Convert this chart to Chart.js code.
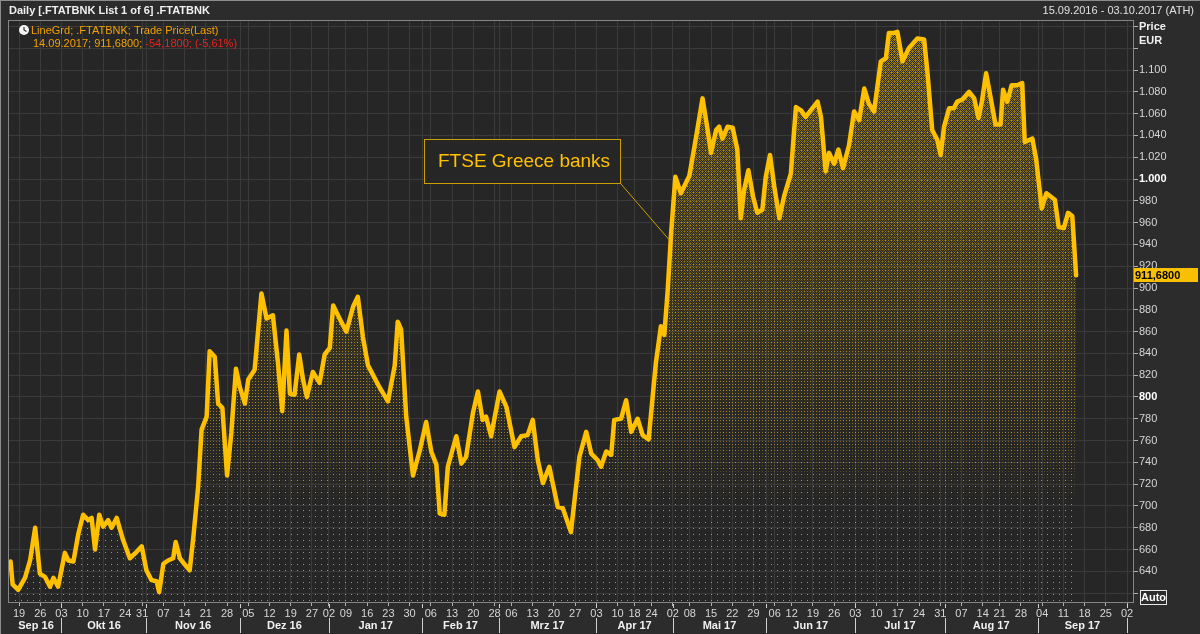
<!DOCTYPE html>
<html>
<head>
<meta charset="utf-8">
<script src="https://cdn.jsdelivr.net/npm/chart.js@4.4.1/dist/chart.umd.min.js"></script>
<style>
  html, body { margin: 0; padding: 0; background: #2c2c2c; }
  #wrap { width: 1200px; height: 634px; }
</style>
</head>
<body>
<div id="wrap"><canvas id="chart" width="1200" height="634"></canvas></div>
<script>
// FTSE Greece banks (.FTATBNK), daily close, x = trading day since 15.09.2016

const tradingDay = [
  0, 0.5, 1.8, 3.4, 4.6, 5.8, 6.9, 8.1, 9.3, 10.1, 11.2, 12.8, 13.6, 14.8, 16.0, 17.1, 18.3, 19.1, 19.9, 20.9,
  21.8, 23.0, 23.8, 25.0, 26.5, 28.1, 29.7, 30.9, 32.0, 33.2, 34.4, 35.0, 36.0, 37.1, 38.3, 38.9, 39.9, 41.1, 42.2, 43.0,
  44.2, 45.0, 46.2, 46.9, 48.1, 48.9, 49.9, 51.0, 52.0, 53.1, 54.0, 55.2, 56.0, 57.5, 59.1, 60.3, 61.8, 63.0, 64.0, 65.0,
  65.8, 66.9, 68.0, 68.9, 69.8, 71.2, 72.8, 74.0, 75.2, 76.0, 77.5, 79.1, 80.7, 81.8, 83.0, 84.2, 86.9, 88.9, 90.5, 91.2,
  92.0, 93.2, 94.8, 96.4, 97.9, 99.1, 100.3, 101.1, 102.2, 103.0, 105.0, 106.2, 107.3, 108.9, 110.1, 111.2, 112.0, 113.2, 115.2, 116.8,
  118.7, 120.3, 121.8, 123.0, 124.2, 125.4, 126.9, 128.9, 130.1, 132.0, 134.0, 135.6, 136.8, 138.3, 139.1, 140.3, 141.5, 142.2, 143.8, 145.0,
  146.2, 147.7, 148.9, 150.3, 152.0, 153.2, 154.0, 154.8, 155.6, 156.6, 157.9, 159.9, 161.5, 163.0, 164.2, 165.0, 166.2, 166.9, 167.7, 168.9,
  170.1, 171.2, 172.0, 172.8, 173.8, 174.9, 175.9, 177.1, 177.9, 178.9, 179.9, 181.1, 182.2, 183.8, 185.0, 186.2, 187.3, 188.9, 190.1, 190.9,
  192.0, 192.8, 194.0, 195.0, 196.1, 197.5, 198.7, 199.9, 201.1, 202.2, 203.4, 205.0, 206.2, 206.9, 208.1, 208.9, 210.1, 211.6, 213.6, 215.2,
  216.0, 217.1, 218.3, 219.1, 219.9, 221.1, 222.2, 223.0, 224.2, 225.8, 227.0, 228.0, 228.8, 229.8, 230.9, 232.0, 233.2, 233.8, 234.8, 235.8,
  237.1, 238.3, 238.9, 240.7, 241.6, 242.9, 244.0, 246.0, 246.9, 248.1, 249.1, 250.1, 251.0
];

const price = [
  649, 628, 623, 634, 650, 680, 638, 635, 626, 634, 626, 657, 650, 649, 675, 692, 687, 689, 660, 692,
  681, 687, 680, 689, 669, 652, 658, 663, 641, 632, 631, 621, 647, 650, 652, 667, 652, 646, 641, 669,
  718, 770, 782, 842, 837, 794, 790, 728, 767, 826, 809, 794, 816, 825, 895, 872, 875, 831, 787, 861,
  803, 802, 839, 816, 800, 823, 813, 839, 845, 884, 872, 860, 883, 892, 855, 829, 809, 796, 829, 869,
  862, 782, 728, 751, 777, 750, 738, 693, 692, 736, 764, 739, 745, 785, 805, 779, 782, 764, 805, 791,
  754, 764, 765, 779, 742, 721, 736, 699, 698, 676, 745, 768, 748, 742, 736, 750, 747, 779, 780, 797,
  768, 780, 765, 761, 831, 865, 857, 898, 950, 1002, 987, 1003, 1039, 1074, 1045, 1024, 1045, 1048, 1037, 1048,
  1047, 1027, 964, 990, 1008, 984, 969, 972, 1002, 1022, 993, 964, 984, 1005, 1066, 1063, 1057, 1065, 1071, 1057,
  1007, 1024, 1014, 1027, 1010, 1031, 1062, 1054, 1083, 1069, 1062, 1108, 1111, 1134, 1134, 1135, 1108, 1120, 1129, 1128,
  1097, 1045, 1036, 1022, 1048, 1065, 1065, 1071, 1073, 1080, 1074, 1056, 1071, 1097, 1074, 1050, 1050, 1082, 1071, 1086,
  1086, 1088, 1034, 1037, 1018, 973, 987, 981, 956, 955, 969, 966, 911.68
];

const weekTickDays = [
  2, 7, 12, 17, 22, 27, 31, 36, 41, 46, 51, 56, 61, 66, 71, 75, 79, 84, 89, 94,
  99, 104, 109, 114, 118, 123, 128, 133, 138, 143, 147, 151, 156, 160, 165, 170, 175, 180, 184, 189,
  194, 199, 204, 209, 214, 219, 224, 229, 233, 238, 243, 248, 253, 258, 263
];
const weekTickLabels = [
  '19', '26', '03', '10', '17', '24', '31', '07', '14', '21', '28', '05', '12', '19', '27', '02', '09', '16', '23', '30',
  '06', '13', '20', '28', '06', '13', '20', '27', '03', '10', '18', '24', '02', '08', '15', '22', '29', '06', '12', '19',
  '26', '03', '10', '17', '24', '31', '07', '14', '21', '28', '04', '11', '18', '25', '02'
];

const monthStartDays = [0, 12, 32, 54, 75, 97, 115, 138, 156, 178, 199, 220, 242, 263];
const monthLabels = ['Sep 16', 'Okt 16', 'Nov 16', 'Dez 16', 'Jan 17', 'Feb 17', 'Mrz 17',
                     'Apr 17', 'Mai 17', 'Jun 17', 'Jul 17', 'Aug 17', 'Sep 17'];

const priceTicks = [620, 640, 660, 680, 700, 720, 740, 760, 780, 800, 820, 840, 860, 880, 900,
                    920, 940, 960, 980, 1000, 1020, 1040, 1060, 1080, 1100, 1120, 1140];

const FONT = "'Liberation Sans', Arial, sans-serif";
const LINE = '#ffc000';
const GRID = '#3a3a3a';

function fmtPrice(v) {
  if (v >= 1000) return Math.floor(v / 1000) + '.' + String(v % 1000).padStart(3, '0');
  return String(v);
}

// dithered area fill: dense yellow dots at the top fading to a sparse dot grid at the bottom
let fillPattern = null;
function getFillPattern(chartCtx, area) {
  if (fillPattern) return fillPattern;
  const c = document.createElement('canvas');
  c.width = 6;
  c.height = 634;
  const g = c.getContext('2d');
  for (let y = 0; y < c.height; y++) {
    const t = Math.min(1, Math.max(0, (y - area.top) / (area.bottom - area.top)));
    for (let x = 0; x < 6; x++) {
      let alpha = 0;
      if ((x + y) % 2 === 0) alpha = Math.max(0, 0.58 - 0.8 * t);
      if (x % 3 === 0 && y % 3 === 0) {
        const mid = t < 0.68 ? 0.55 : Math.max(0, 0.55 - (t - 0.68) * 3.5);
        alpha = Math.max(alpha, mid);
      }
      if (x === 3 && y % 6 === 0) alpha = Math.max(alpha, 0.7);
      if (alpha > 0) {
        g.fillStyle = 'rgba(255,200,0,' + alpha.toFixed(3) + ')';
        g.fillRect(x, y, 1, 1);
      }
    }
  }
  fillPattern = chartCtx.createPattern(c, 'repeat');
  return fillPattern;
}

// --- background, header, legend, annotation, boxes ---
const decor = {
  id: 'decor',
  beforeDraw(chart) {
    const { ctx, chartArea: a } = chart;
    ctx.save();
    ctx.fillStyle = '#2c2c2c';
    ctx.fillRect(0, 0, chart.width, chart.height);
    ctx.fillStyle = '#262626';
    ctx.fillRect(a.left, a.top, a.right - a.left, a.bottom - a.top);
    ctx.fillStyle = '#8c8c8c';
    ctx.fillRect(0, 0, chart.width, 1);
    ctx.fillRect(0, 0, 1, chart.height);
    ctx.restore();
  },
  beforeDatasetsDraw(chart) {
    // month-boundary grid lines
    const { ctx, chartArea: a, scales: { x } } = chart;
    ctx.save();
    ctx.strokeStyle = GRID;
    ctx.lineWidth = 1;
    monthStartDays.slice(1, -1).forEach(d => {
      const px = Math.round(x.getPixelForValue(d)) + 0.5;
      if (weekTickDays.includes(d)) return;
      ctx.beginPath(); ctx.moveTo(px, a.top); ctx.lineTo(px, a.bottom); ctx.stroke();
    });
    ctx.restore();
  },
  afterDraw(chart) {
    const { ctx, chartArea: a, scales: { x, y } } = chart;
    ctx.save();

    // plot frame
    ctx.strokeStyle = '#858585';
    ctx.lineWidth = 1;
    ctx.strokeRect(a.left + 0.5, a.top + 0.5, a.right - a.left, a.bottom - a.top);

    // header
    ctx.textBaseline = 'middle';
    ctx.fillStyle = '#f0f0f0';
    ctx.font = 'bold 11px ' + FONT;
    ctx.textAlign = 'left';
    ctx.fillText('Daily [.FTATBNK List 1 of 6] .FTATBNK', 9, 11);
    ctx.font = '11px ' + FONT;
    ctx.textAlign = 'right';
    ctx.fillStyle = '#e0e0e0';
    ctx.fillText('15.09.2016 - 03.10.2017 (ATH)', 1194, 11);

    // legend
    ctx.fillStyle = '#f4f4f4';
    ctx.beginPath(); ctx.arc(24, 30, 5, 0, Math.PI * 2); ctx.fill();
    ctx.strokeStyle = '#333';
    ctx.lineWidth = 1.2;
    ctx.beginPath(); ctx.moveTo(24, 27); ctx.lineTo(24, 30); ctx.lineTo(26.5, 31.5); ctx.stroke();
    ctx.textAlign = 'left';
    ctx.font = '11px ' + FONT;
    ctx.fillStyle = '#f2a100';
    ctx.fillText('LineGrd; .FTATBNK; Trade Price(Last)', 31, 31);
    const part1 = '14.09.2017; 911,6800; ';
    ctx.fillText(part1, 33, 44);
    ctx.fillStyle = '#e8231f';
    ctx.fillText('-54,1800; (-5,61%)', 33 + ctx.measureText(part1).width, 44);

    // axis title
    ctx.fillStyle = '#f0f0f0';
    ctx.font = 'bold 11px ' + FONT;
    ctx.fillText('Price', 1139, 27);
    ctx.fillText('EUR', 1139, 41);

    // annotation
    const tipX = x.getPixelForValue(155.2), tipY = y.getPixelForValue(944);
    ctx.strokeStyle = '#c9a000';
    ctx.lineWidth = 1;
    ctx.beginPath(); ctx.moveTo(621, 184); ctx.lineTo(tipX, tipY); ctx.stroke();
    ctx.fillStyle = '#262626';
    ctx.fillRect(424, 139, 197, 45);
    ctx.strokeRect(424.5, 139.5, 196, 44);
    ctx.fillStyle = '#ffc000';
    ctx.font = '19px ' + FONT;
    ctx.textAlign = 'left';
    ctx.fillText('FTSE Greece banks', 438, 162);

    // last value box
    const last = price[price.length - 1];
    const ly = Math.round(y.getPixelForValue(last));
    ctx.fillStyle = '#f8c000';
    ctx.fillRect(a.right + 1, ly - 7, 64, 14);
    ctx.fillStyle = '#000';
    ctx.font = 'bold 11px ' + FONT;
    ctx.fillText('911,6800', a.right + 2, ly + 0.5);

    // Auto box
    ctx.strokeStyle = '#e8e8e8';
    ctx.strokeRect(1140.5, 590.5, 26, 14);
    ctx.fillStyle = '#ffffff';
    ctx.fillText('Auto', 1141, 598);

    // month row
    ctx.font = 'bold 11px ' + FONT;
    ctx.textAlign = 'center';
    ctx.fillStyle = '#f0f0f0';
    for (let i = 0; i < monthLabels.length; i++) {
      const mid = (monthStartDays[i] + monthStartDays[i + 1]) / 2;
      ctx.fillText(monthLabels[i], x.getPixelForValue(mid), 626);
    }
    ctx.strokeStyle = '#d0d0d0';
    monthStartDays.slice(1).forEach(d => {
      const px = Math.round(x.getPixelForValue(d)) + 0.5;
      ctx.beginPath(); ctx.moveTo(px, 618); ctx.lineTo(px, 633); ctx.stroke();
      ctx.beginPath(); ctx.moveTo(px, a.bottom + 2); ctx.lineTo(px, a.bottom + 6); ctx.stroke();
    });

    ctx.restore();
  }
};

new Chart(document.getElementById('chart'), {
  type: 'line',
  data: {
    datasets: [{
      data: tradingDay.map((d, i) => ({ x: d, y: price[i] })),
      borderColor: LINE,
      borderWidth: 4.5,
      borderJoinStyle: 'round',
      borderCapStyle: 'round',
      pointRadius: 0,
      tension: 0,
      fill: 'start',
      backgroundColor: (ctx) => {
        const a = ctx.chart.chartArea;
        if (!a) return 'rgba(255,192,0,0.25)';
        return getFillPattern(ctx.chart.ctx, a);
      },
    }],
  },
  options: {
    responsive: false,
    animation: false,
    devicePixelRatio: 1,
    layout: { padding: { left: 8, top: 20, right: 0, bottom: 0 } },
    plugins: {
      legend: { display: false },
      tooltip: { enabled: false },
    },
    scales: {
      x: {
        type: 'linear',
        min: -0.6,
        max: 264.4,
        afterBuildTicks: (scale) => { scale.ticks = weekTickDays.map(v => ({ value: v })); },
        afterFit: (scale) => { scale.height = 32; },
        ticks: {
          autoSkip: false,
          maxRotation: 0,
          padding: 1,
          color: '#d6d6d6',
          font: { family: FONT, size: 11 },
          callback: (v) => weekTickLabels[weekTickDays.indexOf(v)] || '',
        },
        grid: { color: GRID, tickColor: '#b0b0b0', tickLength: 4 },
        border: { color: '#858585' },
      },
      y: {
        position: 'right',
        min: 611.9,
        max: 1145.9,
        afterBuildTicks: (scale) => { scale.ticks = priceTicks.map(v => ({ value: v })); },
        afterFit: (scale) => { scale.width = 67; },
        ticks: {
          autoSkip: false,
          padding: 1,
          color: (c) => (c.tick.value % 200 === 0 ? '#ffffff' : '#d6d6d6'),
          font: (c) => ({ family: FONT, size: 11, weight: c.tick && c.tick.value % 200 === 0 ? 'bold' : 'normal' }),
          callback: (v) => (v >= 640 && v <= 1100 ? fmtPrice(v) : ''),
        },
        grid: { color: GRID, tickColor: '#b0b0b0', tickLength: 5 },
        border: { color: '#858585' },
      },
    },
  },
  plugins: [decor],
});
</script>
</body>
</html>
